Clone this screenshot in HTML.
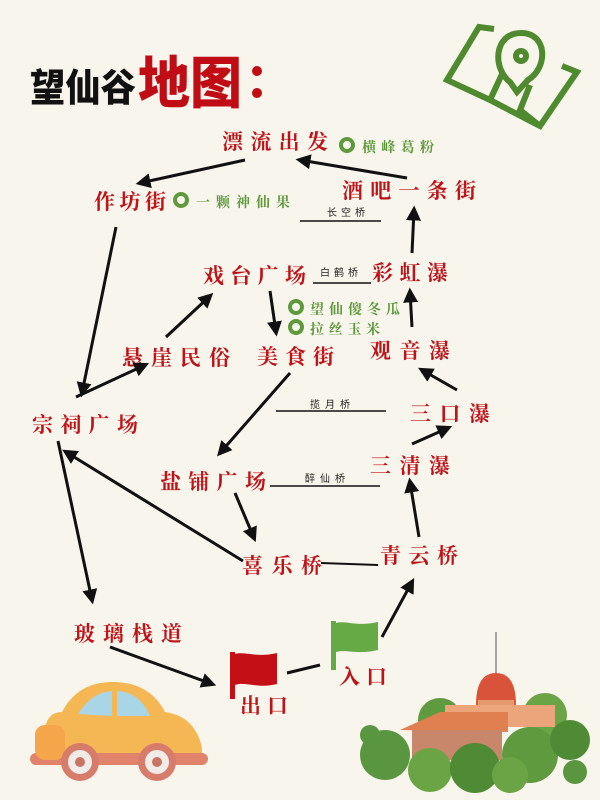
<!DOCTYPE html>
<html><head><meta charset="utf-8"><style>
html,body{margin:0;padding:0;background:#f8f5ec;}
svg{display:block;}
.r{fill:#bb141b;font-family:"Noto Serif CJK SC","Noto Sans CJK SC",serif;font-size:21px;font-weight:700;}
.g{fill:#5e9a3c;font-family:"Noto Serif CJK SC","Noto Sans CJK SC",serif;font-size:14px;font-weight:700;}
.b{fill:#222;font-family:"Noto Sans CJK SC",sans-serif;font-size:10px;}
.a{stroke:#111;stroke-width:3;fill:none;marker-end:url(#ar);}
.l{stroke:#111;stroke-width:1.5;}
</style></head><body>
<svg width="600" height="800" viewBox="0 0 600 800" xmlns="http://www.w3.org/2000/svg">
<defs>
<marker id="ar" markerWidth="5" markerHeight="5" refX="3.5" refY="2.5" orient="auto" markerUnits="strokeWidth">
<path d="M0,0 L5,2.5 L0,5 Z" fill="#111"/></marker>
<g id="dn"><circle r="6" fill="none" stroke="#5e9a3c" stroke-width="4"/></g>
</defs>
<rect width="600" height="800" fill="#f8f5ec"/>
<!-- title -->
<text x="30" y="101" textLength="106" lengthAdjust="spacingAndGlyphs" style="font-family:'Noto Sans CJK SC',sans-serif;font-weight:900;font-size:38px;fill:#111">望仙谷</text>
<text x="138" y="103" textLength="104" lengthAdjust="spacingAndGlyphs" style="font-family:'Noto Sans CJK SC',sans-serif;font-weight:900;font-size:56px;fill:#c00d15">地图</text>
<circle cx="257" cy="71" r="5" fill="#c00d15"/><circle cx="257" cy="93" r="5" fill="#c00d15"/>
<!-- map icon -->
<g fill="none" stroke="#4f8a2f" stroke-width="6" stroke-linejoin="miter">
<path d="M494,29 L479,27 L447,80 L490,100 L540,126 L577,72 L562,66"/>
<path d="M490,100 L503,72"/>
<path d="M540,126 L520,110 L530,85"/>
<path d="M510,82 C492,68 494,33 521,33 C548,33 548,68 528,80 L517,92 Z"/>
<circle cx="521" cy="56" r="5"/>
</g>
<!-- labels -->
<text class="r" x="222" y="149" textLength="106">漂流出发</text>
<use href="#dn" x="347" y="145"/><text class="g" x="362" y="152" textLength="72">横峰葛粉</text>
<text class="r" x="94" y="209" textLength="72">作坊街</text>
<use href="#dn" x="181" y="200"/><text class="g" x="196" y="207" textLength="94">一颗神仙果</text>
<text class="r" x="342" y="198" textLength="134">酒吧一条街</text>
<text class="b" x="327" y="216" textLength="38">长空桥</text><line class="l" x1="300" y1="221" x2="381" y2="221"/>
<text class="r" x="203" y="283" textLength="103">戏台广场</text>
<text class="b" x="320" y="276" textLength="38">白鹤桥</text><line class="l" x1="313" y1="283" x2="371" y2="283"/>
<text class="r" x="372" y="280" textLength="76">彩虹瀑</text>
<use href="#dn" x="296" y="307"/><text class="g" x="310" y="314" textLength="90">望仙傻冬瓜</text>
<use href="#dn" x="296" y="327"/><text class="g" x="310" y="334" textLength="70">拉丝玉米</text>
<text class="r" x="122" y="365" textLength="108">悬崖民俗</text>
<text class="r" x="257" y="364" textLength="77">美食街</text>
<text class="r" x="370" y="358" textLength="80">观音瀑</text>
<text class="r" x="32" y="432" textLength="106">宗祠广场</text>
<text class="b" x="310" y="408" textLength="40">揽月桥</text><line class="l" x1="276" y1="411" x2="386" y2="411"/>
<text class="r" x="410" y="421" textLength="80">三口瀑</text>
<text class="r" x="370" y="473" textLength="80">三清瀑</text>
<text class="r" x="160" y="489" textLength="106">盐铺广场</text>
<text class="b" x="305" y="482" textLength="40">醉仙桥</text><line class="l" x1="270" y1="486" x2="380" y2="486"/>
<text class="r" x="242" y="573" textLength="80">喜乐桥</text>
<text class="r" x="380" y="563" textLength="78">青云桥</text>
<text class="r" x="74" y="641" textLength="108">玻璃栈道</text>
<text class="r" x="240" y="713" textLength="48">出口</text>
<text class="r" x="339" y="684" textLength="48">入口</text>
<!-- arrows -->
<path class="a" d="M245,160 L140,183"/>
<path class="a" d="M407,178 L300,160"/>
<path class="a" d="M116,227 L82,393"/>
<path class="a" d="M412,253 L414,210"/>
<path class="a" d="M412,327 L410,292"/>
<path class="a" d="M457,390 L422,370"/>
<path class="a" d="M412,444 L448,428"/>
<path class="a" d="M419,537 L410,482"/>
<line class="l" style="stroke-width:2" x1="321" y1="563" x2="378" y2="565"/>
<path class="a" d="M243,561 L66,452"/>
<path class="a" d="M235,493 L254,538"/>
<path class="a" d="M290,373 L220,453"/>
<path class="a" d="M270,291 L276,332"/>
<path class="a" d="M166,337 L210,296"/>
<path class="a" d="M76,397 L145,365"/>
<path class="a" d="M58,441 L92,600"/>
<path class="a" d="M110,647 L212,684"/>
<line class="l" style="stroke-width:3" x1="287" y1="673" x2="320" y2="665"/>
<path class="a" d="M382,637 L412,582"/>
<!-- flags -->
<rect x="230" y="652" width="5" height="47" fill="#c40f17"/>
<path d="M235,654 C245,651 256,658 277,653 L277,684 C257,689 245,681 235,685 Z" fill="#c40f17"/>
<rect x="331" y="621" width="5" height="49" fill="#66aa45"/>
<path d="M336,623 C346,620 356,627 378,622 L378,650 C357,655 346,649 336,652 Z" fill="#66aa45"/>
<!-- car -->
<g>
<path d="M45,760 L45,728 Q48,712 62,712 Q78,681 115,682 Q150,683 165,712 Q195,716 202,748 L202,760 Z" fill="#f5b754"/>
<path d="M78,714 Q92,692 112,691 L112,716 Z" fill="#a9d6e6"/>
<path d="M117,691 Q140,692 150,716 L117,716 Z" fill="#a9d6e6"/>
<rect x="30" y="753" width="178" height="12" rx="6" fill="#e1826b"/>
<rect x="35" y="725" width="30" height="35" rx="10" fill="#f6a64a"/>
<circle cx="80" cy="762" r="19" fill="#d77b6b"/><circle cx="80" cy="762" r="12" fill="#f2ece8"/><circle cx="80" cy="762" r="5" fill="#c97564"/>
<circle cx="157" cy="762" r="19" fill="#d77b6b"/><circle cx="157" cy="762" r="12" fill="#f2ece8"/><circle cx="157" cy="762" r="5" fill="#c97564"/>
</g>
<!-- building -->
<g>
<circle cx="440" cy="720" r="22" fill="#5f9a3e"/>
<circle cx="545" cy="715" r="22" fill="#6aa445"/>
<line x1="496" y1="632" x2="496" y2="675" stroke="#555" stroke-width="1"/>
<path d="M476,705 Q476,673 496,673 Q516,673 516,705 Z" fill="#d9533a"/>
<rect x="478" y="700" width="36" height="25" fill="#e59a6e"/>
<rect x="445" y="705" width="110" height="22" fill="#eca47a"/>
<path d="M400,730 L440,712 L508,712 L508,732 Z" fill="#e08050"/>
<rect x="412" y="730" width="90" height="30" fill="#c8866a"/>
<circle cx="385" cy="755" r="25" fill="#5a9540"/>
<circle cx="370" cy="735" r="10" fill="#5a9540"/>
<circle cx="430" cy="770" r="22" fill="#6aa445"/>
<circle cx="475" cy="768" r="25" fill="#4f8a35"/>
<circle cx="530" cy="755" r="28" fill="#5f9a3e"/>
<circle cx="570" cy="740" r="20" fill="#4f8a35"/>
<circle cx="510" cy="775" r="18" fill="#6aa445"/>
<circle cx="575" cy="772" r="12" fill="#5a9540"/>
</g>
</svg>
</body></html>
